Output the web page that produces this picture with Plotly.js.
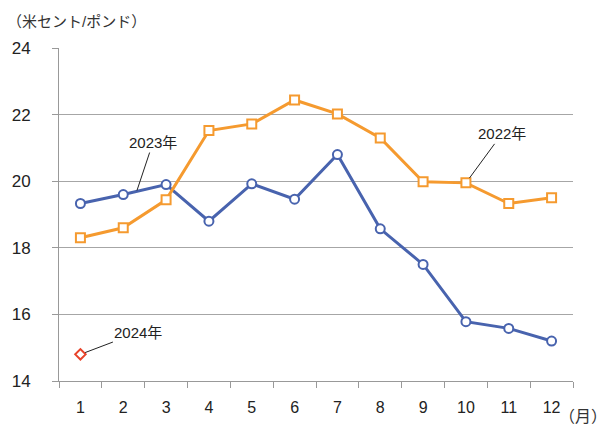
<!DOCTYPE html>
<html>
<head>
<meta charset="utf-8">
<script src="https://cdn.plot.ly/plotly-3.0.1.min.js"></script>
<style>html,body{margin:0;padding:0;background:#fff;}#chart{width:609px;height:426px;}</style>
</head>
<body>
<div id="chart"></div>
<script>
const months = ["1","2","3","4","5","6","7","8","9","10","11","12"];
const y2022 = [18.3, 18.6, 19.44, 21.52, 21.72, 22.44, 22.02, 21.3, 19.98, 19.95, 19.33, 19.5];
const y2023 = [19.33, 19.6, 19.9, 18.8, 19.92, 19.46, 20.8, 18.57, 17.5, 15.78, 15.58, 15.2];
const months2024 = ["1"];
const y2024 = [14.8];
const yTicks = [14, 16, 18, 20, 22, 24];
const seriesNames = ["2022年", "2023年", "2024年"];

const FONT = "'Liberation Sans', Arial, 'Noto Sans CJK JP', sans-serif";
const BLUE = "#4863ae";
const ORANGE = "#f59a2f";
const RED = "#e8432a";

const traces = [
  {x: months, y: y2023, name: seriesNames[1], type: "scatter", mode: "lines+markers",
   line: {color: BLUE, width: 3},
   marker: {symbol: "circle", size: 9, color: "#fff", line: {color: BLUE, width: 2}}},
  {x: months, y: y2022, name: seriesNames[0], type: "scatter", mode: "lines+markers",
   line: {color: ORANGE, width: 3},
   marker: {symbol: "square", size: 9, color: "#fff", line: {color: ORANGE, width: 2}}},
  {x: months2024, y: y2024, name: seriesNames[2], type: "scatter", mode: "markers",
   marker: {symbol: "diamond", size: 8, color: "#fff", line: {color: RED, width: 2}}}
];

const annFont = {family: FONT, size: 15, color: "#222"};
const layout = {
  width: 609, height: 426,
  margin: {l: 59, r: 36, t: 48, b: 45, autoexpand: false},
  paper_bgcolor: "#fff", plot_bgcolor: "#fff",
  showlegend: false,
  font: {family: FONT, color: "#222"},
  xaxis: {
    type: "category", categoryorder: "array", categoryarray: months,
    range: [-0.5, months.length - 0.5],
    automargin: false,
    tickson: "boundaries", ticks: "outside", ticklen: 6, tickcolor: "#999", tickwidth: 1,
    showline: true, linecolor: "#999", linewidth: 1,
    showgrid: false, zeroline: false,
    tickfont: {family: FONT, size: 16, color: "#222"},
    ticklabelstandoff: 12,
    fixedrange: true
  },
  yaxis: {
    range: [14, 24], tickvals: yTicks, ticktext: yTicks.map(String),
    automargin: false,
    ticks: "outside", ticklen: 6, tickcolor: "#999", tickwidth: 1,
    showline: true, linecolor: "#999", linewidth: 1,
    showgrid: true, gridcolor: "#a6a6a6", gridwidth: 1,
    zeroline: false,
    tickfont: {family: FONT, size: 17, color: "#222"},
    ticklabelstandoff: 18,
    fixedrange: true
  },
  annotations: [
    {xref: "paper", yref: "paper", x: -0.105, y: 1.08, xanchor: "left", yanchor: "middle",
     text: "（米セント/ポンド）", showarrow: false,
     font: {family: FONT, size: 15, color: "#333"}},
    {xref: "paper", yref: "paper", x: 1.069, y: -0.108, xanchor: "right", yanchor: "middle",
     text: "（月）", showarrow: false, borderpad: 0,
     font: {family: FONT, size: 16, color: "#333"}},
    {x: 1.32, y: 19.72, text: seriesNames[1], showarrow: true, arrowhead: 0, arrowwidth: 1,
     arrowcolor: "#222", ax: 16, ay: -48, font: annFont, standoff: 0},
    {x: 9, y: y2022[9], text: seriesNames[0], showarrow: true, arrowhead: 0, arrowwidth: 1,
     arrowcolor: "#222", ax: 36, ay: -49, font: annFont, standoff: 6},
    {x: 0, y: y2024[0], text: seriesNames[2], showarrow: true, arrowhead: 0, arrowwidth: 1,
     arrowcolor: "#222", ax: 58, ay: -22, font: annFont, standoff: 5}
  ]
};

Plotly.newPlot("chart", traces, layout, {displayModeBar: false, staticPlot: true});
</script>
</body>
</html>
